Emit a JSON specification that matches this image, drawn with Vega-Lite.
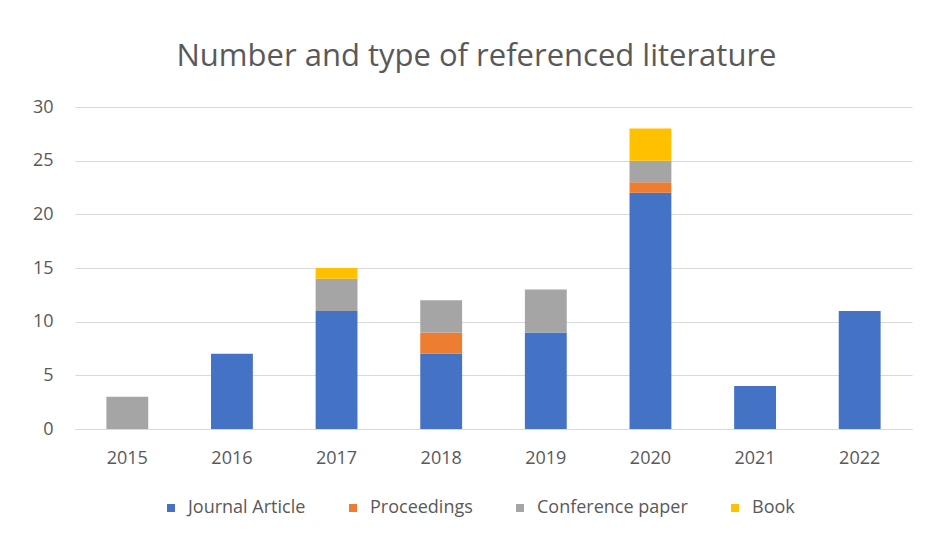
{
  "$schema": "https://vega.github.io/schema/vega-lite/v6.json",
  "width": 837,
  "height": 322,
  "autosize": {"type": "none"},
  "padding": {"left": 75, "top": 107, "right": 19, "bottom": 110},
  "background": "white",
  "config": {"view": {"stroke": null}},
  "title": {
    "text": "Number and type of referenced literature",
    "font": "Open Sans",
    "fontSize": 31,
    "fontWeight": "normal",
    "color": "#595959",
    "anchor": "middle",
    "offset": 25,
    "dx": -17
  },
  "data": {
    "values": [
      {"year": "2015", "type": "Conference paper", "count": 3},
      {"year": "2016", "type": "Journal Article", "count": 7},
      {"year": "2017", "type": "Journal Article", "count": 11},
      {"year": "2017", "type": "Conference paper", "count": 3},
      {"year": "2017", "type": "Book", "count": 1},
      {"year": "2018", "type": "Journal Article", "count": 7},
      {"year": "2018", "type": "Proceedings", "count": 2},
      {"year": "2018", "type": "Conference paper", "count": 3},
      {"year": "2019", "type": "Journal Article", "count": 9},
      {"year": "2019", "type": "Conference paper", "count": 4},
      {"year": "2020", "type": "Journal Article", "count": 22},
      {"year": "2020", "type": "Proceedings", "count": 1},
      {"year": "2020", "type": "Conference paper", "count": 2},
      {"year": "2020", "type": "Book", "count": 3},
      {"year": "2021", "type": "Journal Article", "count": 4},
      {"year": "2022", "type": "Journal Article", "count": 11}
    ]
  },
  "transform": [
    {"calculate": "indexof(['Journal Article', 'Proceedings', 'Conference paper', 'Book'], datum.type)", "as": "stackRank"}
  ],
  "mark": {"type": "bar"},
  "encoding": {
    "x": {
      "field": "year",
      "type": "ordinal",
      "scale": {"paddingInner": 0.6, "paddingOuter": 0.3},
      "axis": {
        "title": null,
        "labelAngle": 0,
        "ticks": false,
        "domainColor": "#d9d9d9",
        "domainWidth": 1,
        "labelPadding": 20,
        "labelFont": "Open Sans",
        "labelFontSize": 18,
        "labelColor": "#595959"
      }
    },
    "y": {
      "field": "count",
      "type": "quantitative",
      "stack": "zero",
      "scale": {"domain": [0, 30]},
      "axis": {
        "title": null,
        "values": [0, 5, 10, 15, 20, 25, 30],
        "domain": false,
        "ticks": false,
        "gridColor": "#d9d9d9",
        "labelPadding": 22,
        "labelFont": "Open Sans",
        "labelFontSize": 18,
        "labelColor": "#595959"
      }
    },
    "order": {"field": "stackRank", "type": "quantitative", "sort": "ascending"},
    "color": {
      "field": "type",
      "type": "nominal",
      "scale": {
        "domain": ["Journal Article", "Proceedings", "Conference paper", "Book"],
        "range": ["#4472c4", "#ed7d31", "#a5a5a5", "#ffc000"]
      },
      "legend": {
        "title": null,
        "orient": "none",
        "direction": "horizontal",
        "legendX": 87,
        "legendY": 392,
        "symbolType": "square",
        "symbolSize": 64,
        "symbolStrokeWidth": 0,
        "labelFont": "Open Sans",
        "labelFontSize": 18,
        "labelColor": "#595959",
        "labelOffset": 8,
        "columnPadding": 38
      }
    }
  }
}
